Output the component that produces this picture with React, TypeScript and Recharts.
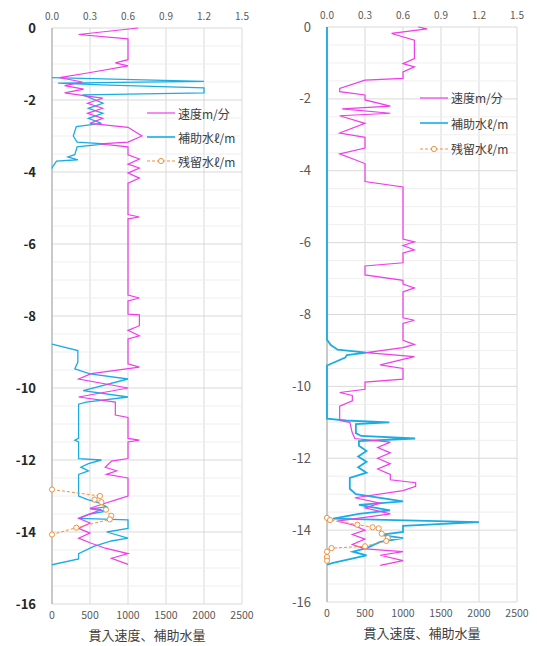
import React from "react";
import { ScatterChart, Scatter, XAxis, YAxis, CartesianGrid, ReferenceLine } from "recharts";

// each point is [depth (m), value]; speed in m/min, water in l/m
type Pt = [number, number];

const DEPTH_TICKS = [0, -2, -4, -6, -8, -10, -12, -14, -16];
const SPEED_TICKS = [0, 0.3, 0.6, 0.9, 1.2, 1.5];
const WATER_TICKS = [0, 500, 1000, 1500, 2000, 2500];
const SERIES_NAMES = ["速度m/分", "補助水ℓ/m", "残留水ℓ/m"];
const AXIS_TITLE = "貫入速度、補助水量";

// left hole
const leftSpeed: Pt[] = [
  [0, 0.68], [-0.18, 0.21], [-0.3, 0.6], [-0.88, 0.6], [-0.97, 0.5], [-1.05, 0.6],
  [-1.25, 0.28], [-1.38, 0.06], [-1.5, 0.24], [-1.6, 0.1], [-1.7, 0.25], [-1.8, 0.1],
  [-1.89, 0.28], [-1.95, 0.4], [-2.09, 0.28], [-2.23, 0.4], [-2.37, 0.28], [-2.51, 0.4],
  [-2.65, 0.3], [-2.76, 0.6], [-3.0, 0.71], [-3.17, 0.6], [-3.22, 0.38], [-3.3, 0.6],
  [-3.52, 0.6], [-3.64, 0.69], [-3.78, 0.6], [-3.89, 0.69], [-4.03, 0.6], [-4.17, 0.69],
  [-4.31, 0.6], [-5.18, 0.6], [-5.25, 0.69], [-5.3, 0.6], [-7.42, 0.6], [-7.5, 0.69],
  [-7.58, 0.6], [-7.95, 0.6], [-7.97, 0.69], [-8.27, 0.69], [-8.4, 0.6], [-8.55, 0.69],
  [-8.64, 0.6], [-9.33, 0.6], [-9.42, 0.69], [-9.6, 0.31], [-9.75, 0.21], [-10.0, 0.6],
  [-10.25, 0.21], [-10.39, 0.5], [-10.75, 0.5], [-10.82, 0.6], [-11.4, 0.6], [-11.45, 0.69],
  [-11.5, 0.6], [-11.96, 0.6], [-12.03, 0.47], [-12.2, 0.42], [-12.3, 0.51], [-12.4, 0.43],
  [-12.5, 0.6], [-13.0, 0.6], [-13.1, 0.51], [-13.2, 0.42], [-13.34, 0.3], [-13.38, 0.39],
  [-13.62, 0.21], [-13.75, 0.3], [-13.9, 0.21], [-14.03, 0.3], [-14.17, 0.21], [-14.3, 0.3],
  [-14.45, 0.42], [-14.6, 0.6], [-14.73, 0.47], [-14.9, 0.6],
];
const leftAidUpper: Pt[] = [
  [-1.38, 0], [-1.48, 2000], [-1.53, 80], [-1.58, 650], [-1.66, 2000], [-1.8, 2000],
  [-1.86, 400], [-1.92, 480], [-2.09, 670], [-2.23, 480], [-2.37, 670], [-2.51, 480],
  [-2.65, 650], [-2.74, 320], [-3.0, 280], [-3.17, 330], [-3.22, 700], [-3.3, 330],
  [-3.52, 300], [-3.58, 210], [-3.66, 340], [-3.7, 60], [-3.85, 10], [-3.9, 0],
];
const leftAidLower: Pt[] = [
  [-8.78, 0], [-8.96, 340], [-9.28, 340], [-9.47, 300], [-9.61, 500], [-9.75, 1000],
  [-10.07, 410], [-10.25, 1000], [-10.39, 450], [-10.45, 350], [-11.4, 350], [-11.45, 300],
  [-11.5, 350], [-11.96, 350], [-12.0, 650], [-12.1, 480], [-12.2, 380], [-12.3, 480],
  [-12.4, 350], [-13.0, 350], [-13.1, 470], [-13.2, 630], [-13.3, 720], [-13.36, 500],
  [-13.42, 720], [-13.5, 500], [-13.62, 350], [-13.66, 1000], [-13.9, 1000], [-14.0, 720],
  [-14.17, 1000], [-14.25, 780], [-14.4, 550], [-14.6, 350], [-14.75, 350], [-14.91, 0],
];
const leftResidual: Pt[] = [
  [-12.82, 0], [-13.0, 630], [-13.1, 560], [-13.17, 650], [-13.38, 710], [-13.55, 780],
  [-13.65, 760], [-13.88, 320], [-14.07, 0],
];

// right hole
const rightSpeed: Pt[] = [
  [0, 0.72], [-0.05, 0.79], [-0.18, 0.51], [-0.37, 0.69], [-0.88, 0.69], [-1.02, 0.6],
  [-1.11, 0.69], [-1.25, 0.6], [-1.43, 0.6], [-1.48, 0.3], [-1.71, 0.1], [-1.8, 0.1],
  [-1.89, 0.3], [-2.03, 0.3], [-2.2, 0.5], [-2.28, 0.12], [-2.4, 0.5], [-2.47, 0.1],
  [-2.68, 0.3], [-2.95, 0.1], [-3.07, 0.3], [-3.37, 0.3], [-3.53, 0.1], [-3.8, 0.3],
  [-4.3, 0.3], [-4.45, 0.6], [-5.9, 0.6], [-5.98, 0.69], [-6.08, 0.6], [-6.2, 0.69],
  [-6.29, 0.6], [-6.56, 0.6], [-6.65, 0.3], [-6.9, 0.3], [-7.05, 0.6], [-7.15, 0.6],
  [-7.26, 0.69], [-7.37, 0.6], [-8.09, 0.6], [-8.16, 0.69], [-8.25, 0.6], [-8.72, 0.6],
  [-8.83, 0.69], [-8.92, 0.6], [-9.06, 0.31], [-9.17, 0.69], [-9.4, 0.42], [-9.5, 0.6],
  [-9.8, 0.6], [-9.88, 0.3], [-10.08, 0.3], [-10.17, 0.1], [-10.25, 0.2], [-10.4, 0.2],
  [-10.55, 0.1], [-10.95, 0.1], [-11.0, 0.18], [-11.3, 0.2], [-11.45, 0.22], [-11.55, 0.5],
  [-11.7, 0.4], [-11.85, 0.5], [-12.0, 0.4], [-12.15, 0.5], [-12.3, 0.4], [-12.45, 0.5],
  [-12.6, 0.5], [-12.68, 0.7], [-12.78, 0.7], [-12.9, 0.6], [-13.1, 0.22], [-13.25, 0.42],
  [-13.38, 0.3], [-13.55, 0.5], [-13.75, 0.08], [-13.85, 0.2], [-14.0, 0.3], [-14.12, 0.2],
  [-14.25, 0.3], [-14.4, 0.2], [-14.52, 0.3], [-14.6, 0.6], [-14.7, 0.42], [-14.85, 0.6],
  [-14.98, 0.42],
];
const rightAid: Pt[] = [
  [0, 0], [-8.7, 0], [-8.85, 50], [-8.98, 140], [-9.06, 520], [-9.13, 260], [-9.2, 240],
  [-9.42, 0], [-10.9, 0], [-10.95, 250], [-11.0, 820], [-11.05, 380], [-11.3, 380],
  [-11.38, 450], [-11.45, 1160], [-11.52, 420], [-11.65, 420], [-11.8, 520], [-11.95, 410],
  [-12.1, 520], [-12.25, 410], [-12.4, 520], [-12.55, 300], [-12.85, 300], [-13.0, 380],
  [-13.2, 1000], [-13.3, 420], [-13.45, 830], [-13.55, 420], [-13.68, 80], [-13.78, 2000],
  [-13.88, 1000], [-14.05, 1000], [-14.13, 700], [-14.22, 1000], [-14.33, 700], [-14.5, 520],
  [-14.6, 340], [-14.7, 520], [-14.91, 80], [-14.96, 0],
];
const rightResidual: Pt[] = [
  [-13.66, 0], [-13.72, 40], [-13.85, 400], [-13.92, 600], [-13.95, 680], [-14.1, 720],
  [-14.22, 800], [-14.3, 780], [-14.45, 500], [-14.5, 60], [-14.6, 0], [-14.75, 0], [-14.85, 0],
];

const PINK = "#F03CEB";
const BLUE = "#1AADE4";
const ORANGE = "#F2913D";
const FONT = '"Noto Sans CJK JP", "Noto Sans", sans-serif';

// half-meter grid below the 2 m major lines
const MINOR_DEPTHS = Array.from({ length: 33 }, (_, i) => -i * 0.5).filter((d) => d % 2 !== 0);

const toRows = (pts: Pt[]) => pts.map(([depth, v]) => ({ depth, v }));

const noDot = () => <g />;
const ringDot = (p: any) => (
  <circle cx={p.cx} cy={p.cy} r={2.6} fill="#fff" stroke={ORANGE} strokeWidth={1} />
);

interface PanelProps {
  left: number;
  width: number;
  margin: { top: number; right: number; bottom: number; left: number };
  yWidth: number;
  boldY: boolean;
  speed: Pt[];
  aid: Pt[][];
  residual: Pt[];
  aidWidth: number;
  legend: { x: number; y: number; gap: number };
}

function Legend3({ x, y, gap }: { x: number; y: number; gap: number }) {
  const colors = [PINK, BLUE, ORANGE];
  return (
    <div style={{ position: "absolute", left: x, top: y, fontFamily: FONT, fontSize: 12, color: "#404040" }}>
      {SERIES_NAMES.map((name, i) => (
        <div key={name} style={{ display: "flex", alignItems: "center", height: gap }}>
          <svg width={28} height={10} style={{ marginRight: 3 }}>
            <line
              x1={0} y1={5} x2={28} y2={5}
              stroke={colors[i]}
              strokeWidth={i === 1 ? 1.6 : 1.2}
              strokeDasharray={i === 2 ? "3 2" : undefined}
            />
            {i === 2 && <circle cx={14} cy={5} r={2.6} fill="#fff" stroke={ORANGE} />}
          </svg>
          <span>{name}</span>
        </div>
      ))}
    </div>
  );
}

function Panel(p: PanelProps) {
  return (
    <div style={{ position: "absolute", left: p.left, top: 0 }}>
      <ScatterChart width={p.width} height={646} margin={p.margin}>
        {MINOR_DEPTHS.map((d) => (
          <ReferenceLine key={d} y={d} xAxisId="bottom" stroke="#eeeeee" strokeWidth={1} />
        ))}
        <CartesianGrid xAxisId="bottom" stroke="#d9d9d9" />
        <XAxis
          xAxisId="top"
          orientation="top"
          type="number"
          dataKey="v"
          domain={[0, 1.5]}
          ticks={SPEED_TICKS}
          tickFormatter={(t: number) => t.toFixed(1)}
          axisLine={false}
          tickLine={false}
          height={20}
          tick={{ fontSize: 10, fill: "#595959", fontFamily: FONT }}
        />
        <XAxis
          xAxisId="bottom"
          orientation="bottom"
          type="number"
          dataKey="v"
          domain={[0, 2500]}
          ticks={WATER_TICKS}
          axisLine={false}
          tickLine={false}
          height={42}
          tick={{ fontSize: 10.5, fill: "#595959", fontFamily: FONT }}
          label={{
            value: AXIS_TITLE,
            position: "insideBottom",
            offset: 6,
            style: { fontSize: 13, fill: "#404040", fontFamily: FONT },
          }}
        />
        <YAxis
          type="number"
          dataKey="depth"
          domain={[-16, 0]}
          ticks={DEPTH_TICKS}
          width={p.yWidth}
          tickLine={false}
          axisLine={{ stroke: "#a6a6a6" }}
          tickMargin={10}
          tick={{
            fontSize: 13,
            fill: p.boldY ? "#262626" : "#595959",
            fontWeight: p.boldY ? 700 : 400,
            fontFamily: FONT,
          }}
        />
        {p.aid.map((seg, i) => (
          <Scatter
            key={`aid-${i}`}
            xAxisId="bottom"
            data={toRows(seg)}
            line={{ stroke: BLUE, strokeWidth: p.aidWidth }}
            lineType="joint"
            shape={noDot}
            isAnimationActive={false}
          />
        ))}
        <Scatter
          xAxisId="top"
          data={toRows(p.speed)}
          line={{ stroke: PINK, strokeWidth: 1.2 }}
          lineType="joint"
          shape={noDot}
          isAnimationActive={false}
        />
        <Scatter
          xAxisId="bottom"
          data={toRows(p.residual)}
          line={{ stroke: ORANGE, strokeWidth: 1, strokeDasharray: "3 2" }}
          lineType="joint"
          shape={ringDot}
          isAnimationActive={false}
        />
      </ScatterChart>
      <Legend3 {...p.legend} />
    </div>
  );
}

export default function App() {
  return (
    <div style={{ position: "absolute", left: 0, top: 0, width: 537, height: 646, background: "#fff" }}>
      <Panel
        left={0}
        width={268}
        margin={{ top: 8, right: 26, bottom: 0, left: 0 }}
        yWidth={52}
        boldY
        speed={leftSpeed}
        aid={[leftAidUpper, leftAidLower]}
        residual={leftResidual}
        aidWidth={1.3}
        legend={{ x: 147, y: 101, gap: 24 }}
        />
      <Panel
        left={270}
        width={267}
        margin={{ top: 7, right: 20, bottom: 2, left: 0 }}
        yWidth={57}
        boldY={false}
        speed={rightSpeed}
        aid={[rightAid]}
        residual={rightResidual}
        aidWidth={1.8}
        legend={{ x: 150, y: 85, gap: 25.5 }}
      />
    </div>
  );
}
